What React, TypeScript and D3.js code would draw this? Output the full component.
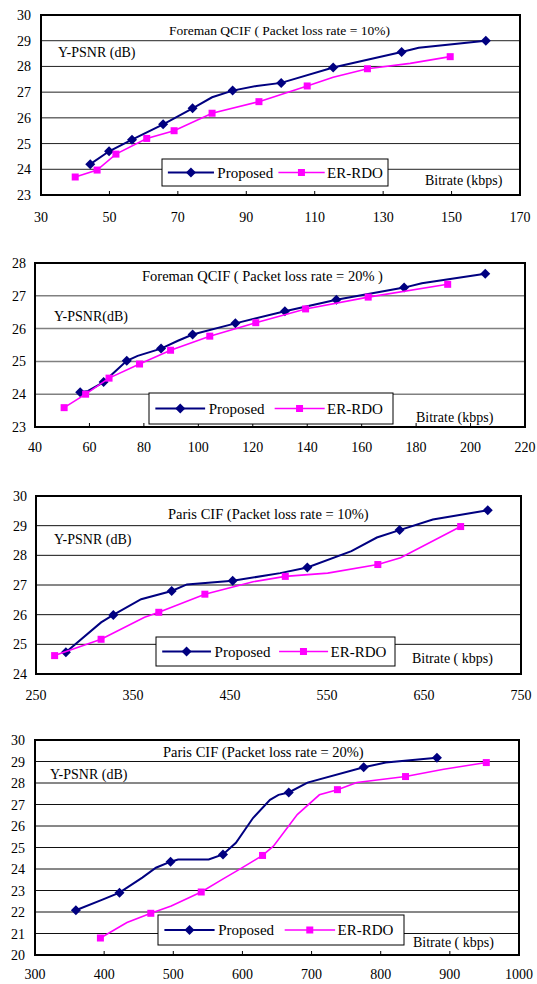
import React from "react";
import * as d3 from "d3";

// [bitrate kbps, Y-PSNR dB, has marker]
type Pt = [number, number, number];

const foreman10Proposed: Pt[] = [
  [44.4, 24.2, 1], [49.9, 24.7, 1], [56.6, 25.15, 1], [65.7, 25.75, 1], [74.3, 26.37, 1],
  [80, 26.8, 0], [86, 27.06, 1], [93, 27.24, 0], [100.2, 27.36, 1], [115.4, 27.96, 1],
  [135.4, 28.56, 1], [140.4, 28.73, 0], [160, 29.0, 1],
];
const foreman10Er: Pt[] = [
  [40, 23.7, 1], [46.4, 23.97, 1], [51.9, 24.59, 1], [60.9, 25.2, 1], [68.9, 25.5, 1],
  [80, 26.18, 1], [93.7, 26.63, 1], [107.8, 27.24, 1], [115.4, 27.58, 0], [125.4, 27.91, 1],
  [137.9, 28.12, 0], [149.6, 28.38, 1],
];

const foreman20Proposed: Pt[] = [
  [56.6, 24.06, 1], [59.5, 24.1, 0], [65.2, 24.37, 1], [73.7, 25.02, 1], [77.7, 25.17, 0],
  [86.3, 25.39, 1], [92.5, 25.63, 0], [97.9, 25.82, 1], [113.6, 26.16, 1], [131.8, 26.53, 1],
  [150.7, 26.88, 1], [175.6, 27.25, 1], [182.1, 27.38, 0], [205.4, 27.67, 1],
];
const foreman20Er: Pt[] = [
  [50.7, 23.59, 1], [58.6, 24.0, 1], [67.2, 24.49, 1], [78.4, 24.92, 1], [89.8, 25.34, 1],
  [104.2, 25.77, 1], [121.1, 26.18, 1], [139.4, 26.6, 1], [162.4, 26.96, 1], [191.6, 27.35, 1],
];

const paris10Proposed: Pt[] = [
  [280.8, 24.73, 1], [317.1, 25.74, 0], [329.7, 25.99, 1], [358.4, 26.52, 0], [389.9, 26.8, 1],
  [405.6, 27.02, 0], [452.8, 27.14, 1], [501.7, 27.4, 0], [529.7, 27.59, 1], [575.2, 28.14, 0],
  [601.4, 28.6, 0], [624.8, 28.85, 1], [659.1, 29.21, 0], [715.7, 29.52, 1],
];
const paris10Er: Pt[] = [
  [269.2, 24.62, 1], [317.1, 25.17, 1], [361.9, 25.91, 0], [376.6, 26.08, 1], [424.1, 26.69, 1],
  [473.8, 27.11, 0], [507, 27.29, 1], [550.7, 27.4, 0], [602.4, 27.69, 1], [625.9, 27.92, 0],
  [687.8, 28.97, 1],
];

const paris20Proposed: Pt[] = [
  [359.1, 22.08, 1], [398.5, 22.59, 0], [422.2, 22.9, 1], [455.2, 23.6, 0], [474.9, 24.06, 0],
  [496.1, 24.34, 1], [506.9, 24.44, 0], [551.2, 24.44, 0], [571.9, 24.68, 1], [590.6, 25.22, 0],
  [615.3, 26.37, 0], [639.9, 27.22, 0], [652.2, 27.45, 0], [667, 27.56, 1], [694.1, 28.02, 0],
  [775.4, 28.73, 1], [807.4, 28.95, 0], [881.3, 29.18, 1],
];
const paris20Er: Pt[] = [
  [394.6, 20.79, 1], [433, 21.51, 0], [467.5, 21.94, 1], [497, 22.28, 0], [540.4, 22.93, 1],
  [570.9, 23.52, 0], [595.6, 23.98, 0], [629.1, 24.63, 1], [644.8, 25.06, 0], [679.3, 26.53, 0],
  [711.3, 27.45, 0], [737.4, 27.69, 1], [765.5, 28.02, 0], [835.9, 28.3, 1], [891.1, 28.64, 0],
  [952.7, 28.95, 1],
];

const xTicks1 = [30, 50, 70, 90, 110, 130, 150, 170];
const xTicks2 = [40, 60, 80, 100, 120, 140, 160, 180, 200, 220];
const xTicks3 = [250, 350, 450, 550, 650, 750];
const xTicks4 = [300, 400, 500, 600, 700, 800, 900, 1000];
const yTicks1 = [23, 24, 25, 26, 27, 28, 29, 30];
const yTicks2 = [23, 24, 25, 26, 27, 28];
const yTicks3 = [24, 25, 26, 27, 28, 29, 30];
const yTicks4 = [20, 21, 22, 23, 24, 25, 26, 27, 28, 29, 30];

const titles = [
  "Foreman QCIF ( Packet loss rate = 10%)",
  "Foreman QCIF ( Packet loss rate = 20% )",
  "Paris CIF (Packet loss rate = 10%)",
  "Paris CIF (Packet loss rate = 20%)",
];
const yTitles = ["Y-PSNR (dB)", "Y-PSNR(dB)", "Y-PSNR (dB)", "Y-PSNR (dB)"];
const xTitles = ["Bitrate (kbps)", "Bitrate (kbps)", "Bitrate ( kbps)", "Bitrate ( kbps)"];
const seriesNames = ["Proposed", "ER-RDO"];

const NAVY = "#000080";
const MAGENTA = "#ff00ff";
const FONT = "Liberation Serif, DejaVu Serif, serif";

const panels = [
  {
    proposed: foreman10Proposed, er: foreman10Er, xTicks: xTicks1, yTicks: yTicks1,
    box: { l: 41, r: 520, t: 15, b: 195 }, grid: "#222", gridW: 1, xTickMarks: true,
    yLabelX: 31, xLabelY: 222, titleX: 169, titleY: 35, titleSize: 13.5,
    yTitleX: 58, yTitleY: 57, legend: { l: 162, r: 388, t: 159, b: 186 }, xTitleX: 425, xTitleY: 185,
  },
  {
    proposed: foreman20Proposed, er: foreman20Er, xTicks: xTicks2, yTicks: yTicks2,
    box: { l: 35, r: 525, t: 263, b: 427 }, grid: "#808080", gridW: 1.5, xTickMarks: true,
    yLabelX: 26, xLabelY: 452, titleX: 142, titleY: 281, titleSize: 14.5,
    yTitleX: 54, yTitleY: 321, legend: { l: 149, r: 393, t: 393, b: 424 }, xTitleX: 416, xTitleY: 422,
  },
  {
    proposed: paris10Proposed, er: paris10Er, xTicks: xTicks3, yTicks: yTicks3,
    box: { l: 36, r: 521, t: 496, b: 674 }, grid: "#111", gridW: 1, xTickMarks: false,
    yLabelX: 27, xLabelY: 700, titleX: 168, titleY: 519, titleSize: 14.5,
    yTitleX: 54, yTitleY: 544, legend: { l: 156, r: 395, t: 637, b: 666 }, xTitleX: 412, xTitleY: 663,
  },
  {
    proposed: paris20Proposed, er: paris20Er, xTicks: xTicks4, yTicks: yTicks4,
    box: { l: 35, r: 519, t: 740, b: 955 }, grid: "#111", gridW: 1, xTickMarks: true,
    yLabelX: 25, xLabelY: 979, titleX: 163, titleY: 757, titleSize: 14.5,
    yTitleX: 50, yTitleY: 779, legend: { l: 158, r: 404, t: 915, b: 945 }, xTitleX: 413, xTitleY: 947,
  },
];

const diamond = (cx: number, cy: number, r: number) =>
  `M${cx},${cy - r}L${cx + r},${cy}L${cx},${cy + r}L${cx - r},${cy}Z`;

function Panel({ p, i }: { p: any; i: number }) {
  const { box } = p;
  const x = d3.scaleLinear().domain(d3.extent(p.xTicks) as [number, number]).range([box.l, box.r]);
  const y = d3.scaleLinear().domain(d3.extent(p.yTicks) as [number, number]).range([box.b, box.t]);
  const line = d3.line<Pt>().x((d) => x(d[0])).y((d) => y(d[1]));
  const lg = p.legend;
  const ly = (lg.t + lg.b) / 2;
  const lw = lg.r - lg.l;

  return (
    <g style={{ fontFamily: FONT }} fill="#000">
      {p.yTicks.slice(1, -1).map((t: number) => (
        <line key={"g" + t} x1={box.l} x2={box.r} y1={y(t)} y2={y(t)} stroke={p.grid} strokeWidth={p.gridW} />
      ))}
      {p.xTickMarks &&
        p.xTicks.slice(1, -1).map((t: number) => (
          <line key={"xt" + t} x1={x(t)} x2={x(t)} y1={box.b} y2={box.b - 4} stroke="#000" strokeWidth={1} />
        ))}
      {p.yTicks.map((t: number) => (
        <text key={"yl" + t} x={p.yLabelX} y={y(t) + 5} textAnchor="end" fontSize={14}>{t}</text>
      ))}
      {p.xTicks.map((t: number) => (
        <text key={"xl" + t} x={x(t)} y={p.xLabelY} textAnchor="middle" fontSize={14}>{t}</text>
      ))}
      <text x={p.titleX} y={p.titleY} fontSize={p.titleSize}>{titles[i]}</text>
      <text x={p.yTitleX} y={p.yTitleY} fontSize={14}>{yTitles[i]}</text>

      <path d={line(p.proposed) || ""} fill="none" stroke={NAVY} strokeWidth={2} />
      {p.proposed.filter((d: Pt) => d[2]).map((d: Pt, k: number) => (
        <path key={"pm" + k} d={diamond(x(d[0]), y(d[1]), 5)} fill={NAVY} />
      ))}
      <path d={line(p.er) || ""} fill="none" stroke={MAGENTA} strokeWidth={1.6} />
      {p.er.filter((d: Pt) => d[2]).map((d: Pt, k: number) => (
        <rect key={"em" + k} x={x(d[0]) - 3.5} y={y(d[1]) - 3.5} width={7} height={7} fill={MAGENTA} />
      ))}

      <rect x={lg.l} y={lg.t} width={lw} height={lg.b - lg.t} fill="#fff" stroke="#000" strokeWidth={1} />
      <line x1={lg.l + 0.026 * lw} x2={lg.l + 0.23 * lw} y1={ly} y2={ly} stroke={NAVY} strokeWidth={2} />
      <path d={diamond(lg.l + 0.128 * lw, ly, 5)} fill={NAVY} />
      <text x={lg.l + 0.245 * lw} y={ly + 5} fontSize={15}>{seriesNames[0]}</text>
      <line x1={lg.l + 0.515 * lw} x2={lg.l + 0.72 * lw} y1={ly} y2={ly} stroke={MAGENTA} strokeWidth={1.6} />
      <rect x={lg.l + 0.617 * lw - 3.5} y={ly - 3.5} width={7} height={7} fill={MAGENTA} />
      <text x={lg.l + 0.73 * lw} y={ly + 5} fontSize={15}>{seriesNames[1]}</text>

      <text x={p.xTitleX} y={p.xTitleY} fontSize={14}>{xTitles[i]}</text>
      <rect x={box.l} y={box.t} width={box.r - box.l} height={box.b - box.t} fill="none" stroke="#000" strokeWidth={2} />
    </g>
  );
}

export default function App() {
  return (
    <svg width={537} height={984} style={{ position: "absolute", left: 0, top: 0, background: "#fff" }}>
      <rect width={537} height={984} fill="#fff" />
      {panels.map((p, i) => (
        <Panel key={i} p={p} i={i} />
      ))}
    </svg>
  );
}
